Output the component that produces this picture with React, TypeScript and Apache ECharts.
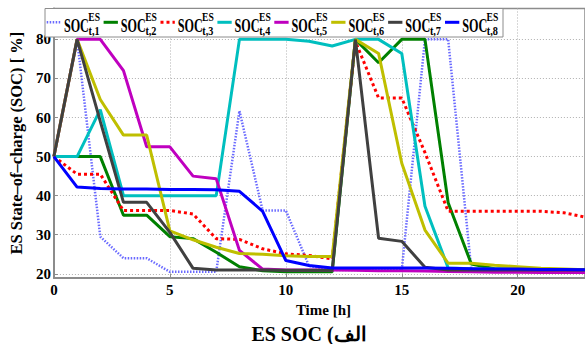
import React, { useEffect, useRef } from "react";
import * as echarts from "echarts";

const hours = [0, 1, 2, 3, 4, 5, 6, 7, 8, 9, 10, 11, 12, 13, 14, 15, 16, 17, 18, 19, 20, 21, 22, 23];

const soc1 = [50, 80, 29.5, 24, 24, 20.5, 20.5, 20.5, 61.7, 36.2, 36.2, 22, 21, 21, 21, 21, 80, 80, 21, 21, 21, 21, 21, 21];
const soc2 = [50, 50, 50, 35, 35, 29.5, 29, 25.5, 21.8, 20.8, 20.5, 20.5, 20.5, 80, 74, 80, 80, 38.2, 22.5, 21.3, 21.2, 21.1, 21, 21];
const soc3 = [50, 45.5, 45.5, 36.2, 36.2, 36.2, 35.3, 29, 28.8, 26.4, 25.1, 24.7, 23.8, 79.5, 65, 65, 51, 36, 36, 36, 36, 36, 35.6, 34.4];
const soc4 = [50, 50, 62, 40, 40, 40, 40, 40, 80, 80, 80, 79.5, 78.3, 80, 80, 76.4, 37.3, 21.5, 21.3, 21.2, 21, 21, 21, 21];
const soc5 = [50, 80, 80, 72, 52.5, 52.5, 45, 44.3, 26, 21.2, 21, 21, 21, 20.9, 20.8, 20.8, 20.7, 20.6, 20.5, 20.4, 20.4, 20.3, 20.3, 20.3];
const soc6 = [50, 80, 64.6, 55.5, 55.5, 31, 28.7, 26.8, 25.2, 25, 24.6, 24.4, 24.4, 80, 76.4, 48.3, 31.2, 22.7, 22.7, 22.2, 21.8, 21.4, 21.2, 21];
const soc7 = [50, 80, 59, 38.3, 38.3, 30.6, 21.4, 21, 21, 21, 20.9, 20.9, 20.9, 80, 29.1, 28.3, 21.7, 21, 21, 21, 21, 21, 21, 21];
const soc8 = [50, 42.2, 41.8, 41.7, 41.7, 41.6, 41.6, 41.5, 41.1, 36, 23.4, 22.1, 21.5, 21.5, 21.5, 21.5, 21.5, 21.4, 21.3, 21.2, 21.2, 21.1, 21.1, 21];

const seriesData = [soc1, soc2, soc3, soc4, soc5, soc6, soc7, soc8];
const subscripts = ["t,1", "t,2", "t,3", "t,4", "t,5", "t,6", "t,7", "t,8"];
const xTicks = [0, 5, 10, 15, 20];
const yTicks = [20, 30, 40, 50, 60, 70, 80];

const styles = [
  { color: "#6a6aff", width: 2.5, type: [1.5, 1.5] as any },
  { color: "#008000", width: 3, type: "solid" as any },
  { color: "#ff0000", width: 3, type: [3, 3] as any },
  { color: "#00bfbf", width: 3, type: "solid" as any },
  { color: "#bf00bf", width: 3, type: "solid" as any },
  { color: "#bfbf00", width: 3, type: "solid" as any },
  { color: "#404040", width: 3, type: "solid" as any },
  { color: "#0000ff", width: 3, type: "solid" as any },
];

const SERIF = "Liberation Serif";

export default function App() {
  const ref = useRef<HTMLDivElement>(null);
  useEffect(() => {
    if (!ref.current) return;
    const chart = echarts.init(ref.current, null, { renderer: "svg" });

    const series = seriesData.map((vals, i) => ({
      type: "line",
      name: "SOC " + subscripts[i],
      data: vals.map((v, k) => [hours[k], v]),
      showSymbol: false,
      symbol: "none",
      lineStyle: { color: styles[i].color, width: styles[i].width, type: styles[i].type, cap: "butt" },
      itemStyle: { color: styles[i].color },
      z: 2 + i,
    }));

    const txt = (x: number, y: number, text: string, size: number, sx: number) => ({
      type: "text",
      z: 102,
      x,
      y,
      scaleX: sx,
      style: {
        text,
        fontSize: size, fontWeight: "bold", fontFamily: SERIF,
        fill: "#000",
        textAlign: "left", align: "left",
        textVerticalAlign: "middle", verticalAlign: "middle",
      },
    });
    const legendEls: any[] = [];
    seriesData.forEach((_, i) => {
      const st = styles[i];
      const dash = Array.isArray(st.type) ? st.type : null;
      const x0 = 46.7 + 56.9 * i;
      legendEls.push({
        type: "line",
        z: 102,
        shape: { x1: x0, y1: 22.3, x2: x0 + 14.3, y2: 22.3 },
        style: { stroke: st.color, lineWidth: st.width, lineDash: dash },
      });
      legendEls.push(txt(x0 + 17.2, 25.0, "SOC", 19, 0.64));
      legendEls.push(txt(x0 + 41.6, 16.6, "ES", 12, 0.8));
      legendEls.push(txt(x0 + 41.8, 30.6, subscripts[i], 12, 0.85));
    });

    const font = { fontFamily: SERIF, fontWeight: "bold" as any, color: "#000" };

    chart.setOption({
      animation: false,
      backgroundColor: "#fff",
      grid: {
        left: 45, right: 0, top: 8.5, bottom: 66.3,
        show: true, borderColor: "#8c8c8c", borderWidth: 1.5, backgroundColor: "transparent",
      },
      xAxis: {
        type: "value",
        min: 0,
        max: 22.9,
        name: "Time [h]",
        nameLocation: "middle",
        nameGap: 23,
        nameTextStyle: { ...font, fontSize: 15, padding: [0, 0, 0, 8] },
        axisLine: { show: true, lineStyle: { color: "#8c8c8c", width: 2 } },
        axisTick: { show: true, inside: true, length: 4, customValues: xTicks, lineStyle: { color: "#8c8c8c" } },
        axisLabel: { ...font, customValues: xTicks, fontSize: 15, margin: 5 },
        splitLine: { show: true, lineStyle: { color: "#b0b0b0", type: [1, 2], width: 1 } },
      },
      yAxis: {
        type: "value",
        min: 19,
        max: 87.9,
        name: "ES State\u2013of\u2013charge (SOC) [ %]",
        nameLocation: "middle",
        nameGap: 21,
        nameRotate: 90,
        nameTextStyle: { ...font, fontSize: 16.5 },
        axisLine: { show: true, lineStyle: { color: "#8c8c8c", width: 2 } },
        axisTick: { show: true, inside: true, length: 4, customValues: yTicks, lineStyle: { color: "#8c8c8c" } },
        axisLabel: { ...font, customValues: yTicks, fontSize: 15, margin: 3 },
        splitLine: { show: true, lineStyle: { color: "#b0b0b0", type: [1, 2], width: 1 } },
      },
      graphic: [
        {
          type: "rect",
          z: 100,
          shape: { x: 45, y: 8.5, width: 458, height: 28.5 },
          style: { fill: "#fff", stroke: "#8c8c8c", lineWidth: 1 },
        },
        ...legendEls,
        {
          type: "text",
          z: 100,
          x: 309,
          y: 333.5,
          style: {
            text: "ES SOC (\u0627\u0644\u0641",
            fontSize: 20, fontWeight: "bold", fontFamily: SERIF,
            fill: "#000",
            textAlign: "center", align: "center",
            textVerticalAlign: "middle", verticalAlign: "middle",
          },
        },
      ],
      series,
    });
    return () => chart.dispose();
  }, []);
  return <div ref={ref} style={{ position: "absolute", left: 0, top: 0, width: 585, height: 344 }} />;
}
